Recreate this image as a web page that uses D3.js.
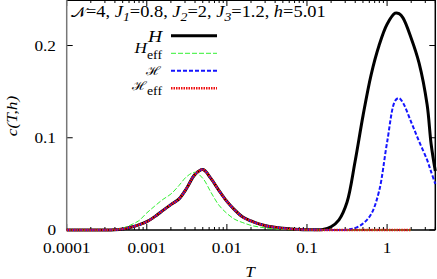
<!DOCTYPE html>
<html>
<head>
<meta charset="utf-8">
<script src="https://cdn.jsdelivr.net/npm/d3@7"></script>
<style>
  body { margin: 0; background: #fff; }
</style>
</head>
<body>
<div id="chart"></div>
<script>
// Temperatures (log grid) and specific heat c(T,h)
const temps = [0.0001, 0.000316, 0.000398, 0.000501, 0.000631, 0.000794, 0.001, 0.00126, 0.00158, 0.002,
  0.00251, 0.00316, 0.00398, 0.00501, 0.00631, 0.00794, 0.01, 0.0126, 0.0158, 0.02,
  0.0251, 0.0316, 0.0398, 0.0501, 0.0631, 0.0794, 0.1, 0.126, 0.158, 0.2,
  0.251, 0.316, 0.398, 0.501, 0.631, 0.794, 1, 1.26, 1.41, 1.58, 2,
  2.51, 3.16, 3.55, 4];

// H (black, solid)
const cH = [0, 0, 0.0003, 0.0012, 0.003, 0.0055, 0.009, 0.0145, 0.021, 0.0275,
  0.0335, 0.0455, 0.060, 0.0655, 0.056, 0.043, 0.031, 0.0215, 0.014, 0.0098,
  0.0066, 0.0044, 0.003, 0.0018, 0.0011, 0.0006, 0.0003, 0.0002, 0.0005, 0.0035,
  0.011, 0.030, 0.074, 0.124, 0.168, 0.200, 0.223, 0.235, 0.2345, 0.230, 0.208,
  0.181, 0.136, 0.093, 0.064];

// H_eff (green, dashed)
const cHeff = [0, 0, 0.0005, 0.002, 0.0055, 0.010, 0.0185, 0.026, 0.033, 0.039,
  0.048, 0.058, 0.0625, 0.056, 0.041, 0.027, 0.018, 0.0115, 0.008, 0.005,
  0.0033, 0.002, 0.0012, 0.0006, 0.0003, 0.0001, 0, 0, 0, 0,
  0, 0, 0, 0, 0, 0, 0, 0, 0, 0, 0,
  null, null, null, null];

// script H (blue, dashed)
const cScrH = [0, 0, 0.0003, 0.0012, 0.003, 0.0055, 0.009, 0.0145, 0.021, 0.0275,
  0.0335, 0.0455, 0.060, 0.0655, 0.056, 0.043, 0.031, 0.0215, 0.014, 0.0098,
  0.0066, 0.0044, 0.003, 0.0018, 0.0011, 0.0006, 0.0003, 0.0002, 0.0001, 0,
  0, 0.0003, 0.002, 0.007, 0.017, 0.042, 0.095, 0.140, 0.143, 0.138, 0.117,
  0.096, 0.076, 0.063, 0.050];

// script H_eff (red, dotted)
const cScrHeff = [0, 0, 0.0003, 0.0012, 0.003, 0.0055, 0.009, 0.0145, 0.021, 0.0275,
  0.0335, 0.0455, 0.060, 0.0655, 0.056, 0.043, 0.031, 0.0215, 0.014, 0.0098,
  0.0066, 0.0044, 0.003, 0.0018, 0.0011, 0.0006, 0.0003, 0.0001, 0, 0,
  0, 0, 0, 0, 0, 0, 0, 0, 0, 0, 0,
  null, null, null, null];

const xTicks = [0.0001, 0.001, 0.01, 0.1, 1];
const xTickLabels = ["0.0001", "0.001", "0.01", "0.1", "1"];
const yTicks = [0, 0.1, 0.2];
const yTickLabels = ["0", "0.1", "0.2"];

const W = 437, H = 279;
const svg = d3.select("#chart").append("svg")
    .attr("width", W)
    .attr("height", H)
    .attr("font-family", "'Liberation Serif', 'Times New Roman', 'DejaVu Serif', serif");

const x = d3.scaleLog().domain([0.0001, 4]).range([66.7, 435.3]);
const y = d3.scaleLinear().domain([0, 0.25]).range([230, -0.6]);

// stretched serif text, like the original output
function label(px, py, str, anchor, size) {
    return svg.append("text")
        .attr("transform", `translate(${px},${py}) scale(1.15,1)`)
        .attr("text-anchor", anchor || "start")
        .attr("font-size", size || 15)
        .text(str);
}

// minor ticks at 2..9 of each decade
const minor = [];
for (let e = -4; e <= 0; e++) {
    for (let k = 2; k <= 9; k++) {
        const v = k * Math.pow(10, e);
        if (v <= 4) minor.push(v);
    }
}

const ticksG = svg.append("g");
xTicks.forEach(t => {
    ticksG.append("line").attr("x1", x(t)).attr("x2", x(t)).attr("y1", y(0)).attr("y2", y(0) - 6);
    ticksG.append("line").attr("x1", x(t)).attr("x2", x(t)).attr("y1", 0).attr("y2", 6);
});
minor.forEach(t => {
    ticksG.append("line").attr("x1", x(t)).attr("x2", x(t)).attr("y1", y(0)).attr("y2", y(0) - 3);
    ticksG.append("line").attr("x1", x(t)).attr("x2", x(t)).attr("y1", 0).attr("y2", 3);
});
yTicks.forEach(t => {
    ticksG.append("line").attr("x1", x(0.0001)).attr("x2", x(0.0001) + 6).attr("y1", y(t)).attr("y2", y(t));
    ticksG.append("line").attr("x1", x(4)).attr("x2", x(4) - 6).attr("y1", y(t)).attr("y2", y(t));
});
ticksG.selectAll("line").attr("stroke", "#000").attr("stroke-width", 1);

// frame
svg.append("line").attr("x1", x(0.0001)).attr("x2", x(4)).attr("y1", 0.5).attr("y2", 0.5)
    .attr("stroke", "#000");
svg.append("line").attr("x1", x(4)).attr("x2", x(4)).attr("y1", 0).attr("y2", y(0))
    .attr("stroke", "#000").attr("stroke-width", 1.5);
svg.append("line").attr("x1", x(0.0001)).attr("x2", x(0.0001)).attr("y1", 0).attr("y2", y(0))
    .attr("stroke", "#777").attr("stroke-width", 1.5);
svg.append("line").attr("x1", x(0.0001)).attr("x2", x(4)).attr("y1", y(0)).attr("y2", y(0))
    .attr("stroke", "#000").attr("stroke-width", 1.5);

// tick labels
xTicks.forEach((t, i) => label(x(t), 252.5, xTickLabels[i], "middle"));
yTicks.forEach((t, i) => label(56, y(t) + 5, yTickLabels[i], "end"));

// axis titles
label(250, 277, "T", "middle").attr("font-style", "italic");
svg.append("text")
    .attr("transform", "translate(17,116) rotate(-90) scale(1.15,1)")
    .attr("text-anchor", "middle")
    .attr("font-size", 15)
    .attr("font-style", "italic")
    .text("c(T,h)");

// curves
const series = [
    {vals: cH, color: "#000", width: 3, dash: null},
    {vals: cHeff, color: "#33f033", width: 1, dash: "5,2"},
    {vals: cScrH, color: "#1515ff", width: 2, dash: "4,2"},
    {vals: cScrHeff, color: "#ee1111", width: 2.5, dash: "1.5,1"}
];

const line = d3.line()
    .defined(d => d[1] != null)
    .x(d => x(d[0]))
    .y(d => y(d[1]))
    .curve(d3.curveCatmullRom.alpha(0.5));

series.forEach(s => {
    svg.append("path")
        .datum(temps.map((t, i) => [t, s.vals[i]]))
        .attr("d", line)
        .attr("fill", "none")
        .attr("stroke", s.color)
        .attr("stroke-width", s.width)
        .attr("stroke-dasharray", s.dash);
});

// parameter line
const title = svg.append("text")
    .attr("transform", "translate(71,17) scale(1.15,1)")
    .attr("font-size", 16);
function part(str, opts) {
    const t = title.append("tspan").text(str);
    if (opts && opts.italic) t.attr("font-style", "italic");
    if (opts && opts.dy) t.attr("dy", opts.dy);
    if (opts && opts.size) t.attr("font-size", opts.size);
    if (opts && opts.family) t.attr("font-family", opts.family);
    return t;
}
part("𝒩", {family: "'DejaVu Serif', 'Noto Sans', serif", size: 14});
part("=4, ");
part("J", {italic: true});
part("1", {italic: true, dy: 4, size: 12});
part("=0.8, ", {dy: -4});
part("J", {italic: true});
part("2", {italic: true, dy: 4, size: 12});
part("=2, ", {dy: -4});
part("J", {italic: true});
part("3", {italic: true, dy: 4, size: 12});
part("=1.2, ", {dy: -4});
part("h", {italic: true});
part("=5.01");

// legend
const legendY = [35.7, 53.3, 70.7, 88.3];
const legX1 = 171, legX2 = 217;
series.forEach((s, i) => {
    svg.append("line")
        .attr("x1", legX1).attr("x2", legX2)
        .attr("y1", legendY[i]).attr("y2", legendY[i])
        .attr("stroke", s.color)
        .attr("stroke-width", s.width)
        .attr("stroke-dasharray", s.dash);
});

const l0 = label(162, legendY[0] + 6, "", "end", 17);
l0.append("tspan").attr("font-style", "italic").text("H");

const l1 = label(162, legendY[1], "", "end", 15);
l1.append("tspan").attr("font-style", "italic").text("H");
l1.append("tspan").attr("dy", 6).attr("font-size", 12).text("eff");

const l2 = label(161, legendY[2] + 4, "", "end", 12);
l2.append("tspan").text("ℋ");

const l3 = label(162, legendY[3] + 2, "", "end", 12);
l3.append("tspan").text("ℋ");
l3.append("tspan").attr("dy", 5).attr("font-size", 12).text("eff");
</script>
</body>
</html>
